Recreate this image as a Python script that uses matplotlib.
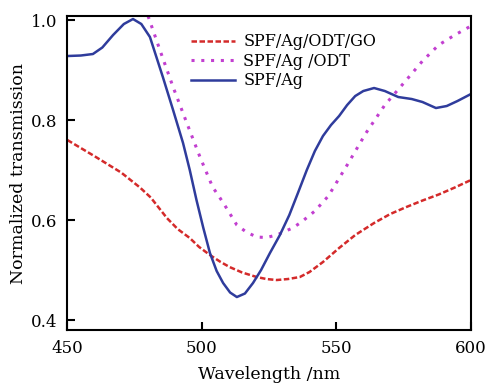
import matplotlib
matplotlib.use("Agg")
import matplotlib.pyplot as plt

plt.rcParams['font.family'] = ['DejaVu Serif']
plt.rcParams['mathtext.fontset'] = 'dejavuserif'

# SPF/Ag/ODT/GO
wl_go = [450, 460, 470, 477, 481, 487, 491, 495.5, 499, 503, 507, 510.3, 515, 520.4, 524, 527.8, 532, 536.4, 540, 545, 551, 557, 564, 570, 576, 582, 588, 594, 600]
tr_go = [0.760, 0.728, 0.695, 0.665, 0.645, 0.604, 0.582, 0.564, 0.546, 0.530, 0.516, 0.506, 0.495, 0.486, 0.482, 0.480, 0.482, 0.486, 0.496, 0.516, 0.544, 0.570, 0.594, 0.612, 0.626, 0.639, 0.651, 0.665, 0.680]

# SPF/Ag/ODT
wl_odt = [480, 484.4, 489.3, 494.4, 499.3, 504, 508, 513, 516.5, 520.4, 524, 527.8, 533.7, 537, 542, 547, 554, 561, 568, 576, 582, 588, 594, 600]
tr_odt = [1.008, 0.940, 0.866, 0.794, 0.726, 0.666, 0.634, 0.590, 0.576, 0.566, 0.565, 0.570, 0.584, 0.596, 0.618, 0.648, 0.710, 0.774, 0.830, 0.880, 0.918, 0.950, 0.970, 0.988]

# SPF/Ag
wl_ag = [450, 455, 459.5, 463, 467, 471, 474.4, 477.5, 480.7, 485.5, 489.3, 493, 495.5, 498, 500.5, 503, 505.5, 507.9, 510.5, 513, 516, 519, 522, 525.3, 529, 532.5, 535.7, 539, 542, 545, 548, 551, 554, 557, 560, 564, 568, 573, 578, 582, 587, 591, 595, 600]
tr_ag = [0.928, 0.929, 0.932, 0.945, 0.970, 0.992, 1.002, 0.992, 0.966, 0.886, 0.820, 0.754, 0.700, 0.640, 0.585, 0.534, 0.498, 0.474, 0.455, 0.446, 0.453, 0.474, 0.500, 0.534, 0.570, 0.610, 0.654, 0.700, 0.738, 0.768, 0.790, 0.808, 0.830, 0.848, 0.858, 0.864, 0.858, 0.846, 0.842, 0.836, 0.824, 0.828, 0.838, 0.852]

labels = ["SPF/Ag/ODT/GO", "SPF/Ag /ODT", "SPF/Ag"]
xticks = [450, 500, 550, 600]
yticks = [0.4, 0.6, 0.8, 1.0]

fig = plt.figure(figsize=(4.88, 3.86), dpi=100)
ax = fig.add_axes([0.138, 0.145, 0.827, 0.8135])

ax.plot(wl_go, tr_go, color='#d42a2a', lw=1.8, ls=(0, (2.2, 1.0)), label=labels[0])
ax.plot(wl_odt, tr_odt, color='#c23fd0', lw=2.2, ls=(0, (1.0, 2.2)), label=labels[1])
ax.plot(wl_ag, tr_ag, color='#2f3c9c', lw=1.8, ls='-', label=labels[2])

ax.set_xlim(450, 600)
ax.set_ylim(0.38, 1.008)
ax.set_xticks(xticks)
ax.set_xticklabels([str(v) for v in xticks])
ax.set_yticks(yticks)
ax.set_yticklabels([f"{v:.1f}" for v in yticks])
ax.tick_params(direction='in', length=6, width=1.5, labelsize=12, pad=7,
               top=False, right=False)
for s in ax.spines.values():
    s.set_linewidth(1.5)

ax.set_xlabel("Wavelength /nm", fontsize=12.5, labelpad=7)
ax.set_ylabel("Normalized transmission", fontsize=12.5, labelpad=3)

leg = ax.legend(loc='upper left', bbox_to_anchor=(0.29, 0.965), frameon=False,
                fontsize=11.5, handlelength=2.8, handletextpad=0.5,
                labelspacing=0.15, borderaxespad=0)

fig.savefig("out.png", dpi=100)
